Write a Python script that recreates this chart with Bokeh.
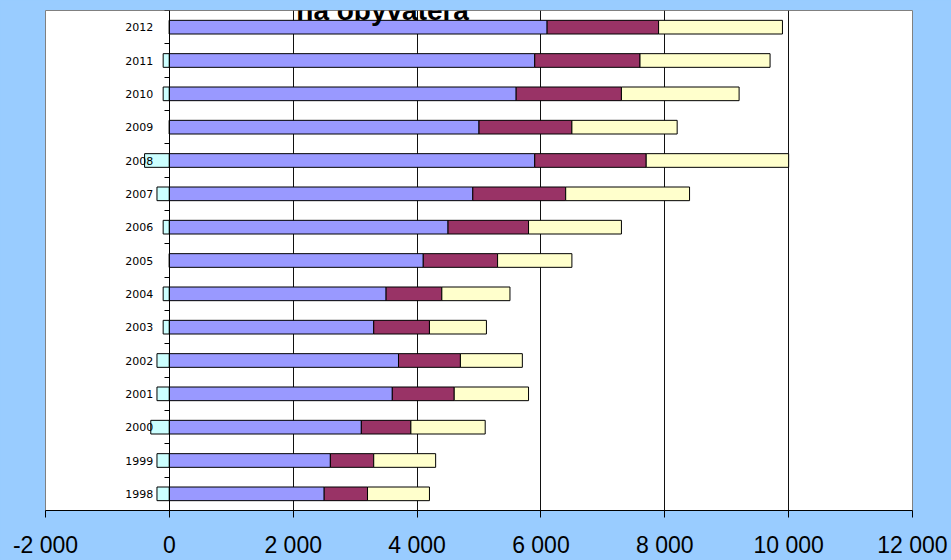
from bokeh.plotting import figure
from bokeh.models import FixedTicker, Range1d, Label
from bokeh.embed import file_html
from bokeh.resources import INLINE

# ---- data ----
years = ["1998", "1999", "2000", "2001", "2002", "2003", "2004", "2005",
         "2006", "2007", "2008", "2009", "2010", "2011", "2012"]
purple = [2500, 2600, 3100, 3600, 3700, 3300, 3500, 4100, 4500, 4900, 5900, 5000, 5600, 5900, 6100]
maroon = [700, 700, 800, 1000, 1000, 900, 900, 1200, 1300, 1500, 1800, 1500, 1700, 1700, 1800]
yellow = [1000, 1000, 1200, 1200, 1000, 920, 1100, 1200, 1500, 2000, 2300, 1700, 1900, 2100, 2000]
cyan = [-200, -200, -300, -200, -200, -100, -100, 0, -100, -200, -400, 0, -100, -100, 0]
x_ticks = [-2000, 0, 2000, 4000, 6000, 8000, 10000, 12000]
x_tick_labels = ["-2 000", "0", "2 000", "4 000", "6 000", "8 000", "10 000", "12 000"]
title_text = "na obyvateľa"

pos = list(range(1, len(years) + 1))
end1 = purple
end2 = [a + b for a, b in zip(purple, maroon)]
end3 = [a + b + c for a, b, c in zip(purple, maroon, yellow)]

p = figure(width=951, height=560,
           x_range=Range1d(x_ticks[0], x_ticks[-1]),
           y_range=Range1d(0.5, len(years) + 0.5),
           output_backend="svg", toolbar_location=None,
           min_border_left=45, min_border_right=39,
           min_border_top=10, min_border_bottom=48,
           background_fill_color="white", border_fill_color="#99CCFF",
           outline_line_color="#808080", outline_line_width=1)

bh = 0.41
p.hbar(y=pos, left=cyan, right=0, height=bh, fill_color="#CCFFFF", line_color="black", line_width=1)
p.hbar(y=pos, left=0, right=end1, height=bh, fill_color="#9999FF", line_color="black", line_width=1)
p.hbar(y=pos, left=end1, right=end2, height=bh, fill_color="#993366", line_color="black", line_width=1)
p.hbar(y=pos, left=end2, right=end3, height=bh, fill_color="#FFFFCC", line_color="black", line_width=1)

# x axis
xa = p.xaxis[0]
xa.ticker = FixedTicker(ticks=x_ticks)
xa.major_label_overrides = {t: s for t, s in zip(x_ticks, x_tick_labels)}
xa.major_label_text_font = "Liberation Sans"
xa.major_label_text_font_size = "23px"
xa.major_label_text_color = "black"
xa.major_tick_out = 7
xa.major_tick_in = 0
xa.major_tick_line_color = "black"
xa.axis_line_color = "black"
xa.major_label_standoff = 14

# y axis crossing at 0
ya = p.yaxis[0]
ya.fixed_location = 0
ya.ticker = FixedTicker(ticks=pos, minor_ticks=[k - 0.5 for k in range(1, len(years) + 2)])
ya.major_label_overrides = {k: y for k, y in zip(pos, years)}
ya.major_label_text_font = "DejaVu Sans"
ya.major_label_text_font_size = "11px"
ya.major_label_text_font_style = "normal"
ya.major_label_text_color = "black"
ya.major_tick_out = 0
ya.major_tick_in = 0
ya.minor_tick_out = 5
ya.minor_tick_in = 0
ya.minor_tick_line_color = "black"
ya.axis_line_color = "black"
ya.major_label_standoff = 11

p.xgrid.ticker = FixedTicker(ticks=x_ticks[1:-1])
p.xgrid.grid_line_color = "#111111"
p.ygrid.visible = False

p.add_layout(Label(x=2050, y=len(years) + 0.5 + 0.015, text=title_text,
                   text_font="Liberation Sans", text_font_style="bold",
                   text_font_size="28px", text_color="black",
                   text_align="left", text_baseline="alphabetic"))

html = file_html(p, INLINE)
html = html.replace("</head>", "<style>html,body{margin:0;padding:0;background:#99CCFF;overflow:hidden}</style></head>")
open("out.html", "w").write(html)
